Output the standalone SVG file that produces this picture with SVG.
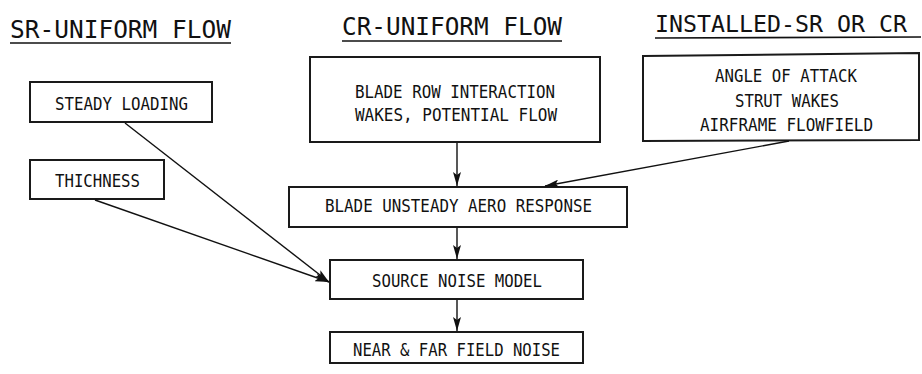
<svg xmlns="http://www.w3.org/2000/svg" width="922" height="374" viewBox="0 0 922 374">
<defs>
<style>
.box{fill:#fff;stroke:#1a1a1a;stroke-width:2}
.t{font-family:"DejaVu Sans Mono","Liberation Mono",monospace;font-size:18px;fill:#111}
.h{font-family:"DejaVu Sans Mono","Liberation Mono",monospace;font-size:25px;fill:#111}
.ul{stroke:#111;stroke-width:1.6}
.c{stroke:#111;stroke-width:1.4;fill:none}
</style>
<marker id="ah" viewBox="0 0 14 8" refX="14" refY="4" markerWidth="14" markerHeight="8" markerUnits="userSpaceOnUse" orient="auto">
<path d="M0,0 L14,4 L0,8 L3,4 Z" fill="#111"/>
</marker>
</defs>
<rect width="922" height="374" fill="#fff"/>
<g id="titles">
<text class="h" x="10" y="38" textLength="221" lengthAdjust="spacingAndGlyphs">SR-UNIFORM FLOW</text>
<line class="ul" x1="10" y1="43" x2="231" y2="43"/>
<text class="h" x="342" y="35" textLength="220" lengthAdjust="spacingAndGlyphs">CR-UNIFORM FLOW</text>
<line class="ul" x1="342" y1="41" x2="562" y2="41"/>
<text class="h" x="655" y="32" style="font-size:23.5px" textLength="252" lengthAdjust="spacingAndGlyphs">INSTALLED-SR OR CR</text>
<line class="ul" x1="655" y1="38" x2="921" y2="37"/>
</g>
<g id="steady">
<rect class="box" x="30" y="82" width="182" height="40"/>
<text class="t" x="55" y="110" textLength="133" lengthAdjust="spacingAndGlyphs">STEADY LOADING</text>
</g>
<g id="thichness">
<rect class="box" x="30" y="160" width="134" height="39"/>
<text class="t" x="55" y="187" textLength="85" lengthAdjust="spacingAndGlyphs">THICHNESS</text>
</g>
<g id="cr">
<rect class="box" x="310" y="57" width="290" height="85"/>
<text class="t" x="355" y="98" textLength="200" lengthAdjust="spacingAndGlyphs">BLADE ROW INTERACTION</text>
<text class="t" x="355" y="121" textLength="202" lengthAdjust="spacingAndGlyphs">WAKES, POTENTIAL FLOW</text>
</g>
<g id="installed">
<path class="box" d="M643,56 L919,53 L919,140 L643,141 Z"/>
<text class="t" x="715" y="82" textLength="142" lengthAdjust="spacingAndGlyphs">ANGLE OF ATTACK</text>
<text class="t" x="735" y="107" textLength="104" lengthAdjust="spacingAndGlyphs">STRUT WAKES</text>
<text class="t" x="700" y="131" textLength="173" lengthAdjust="spacingAndGlyphs">AIRFRAME FLOWFIELD</text>
</g>
<g id="blade">
<rect class="box" x="289" y="187" width="338" height="40"/>
<text class="t" x="325" y="212" textLength="267" lengthAdjust="spacingAndGlyphs">BLADE UNSTEADY AERO RESPONSE</text>
</g>
<g id="source">
<rect class="box" x="330" y="260" width="253" height="39"/>
<text class="t" x="372" y="287" textLength="170" lengthAdjust="spacingAndGlyphs">SOURCE NOISE MODEL</text>
</g>
<g id="near">
<rect class="box" x="330" y="332" width="253" height="31"/>
<text class="t" x="353" y="356" textLength="207" lengthAdjust="spacingAndGlyphs">NEAR &amp; FAR FIELD NOISE</text>
</g>
<g id="connectors">
<line class="c" x1="457" y1="143" x2="457" y2="186" marker-end="url(#ah)"/>
<line class="c" x1="789" y1="141" x2="545" y2="186" marker-end="url(#ah)"/>
<line class="c" x1="457" y1="228" x2="457" y2="259" marker-end="url(#ah)"/>
<line class="c" x1="457" y1="300" x2="457" y2="331" marker-end="url(#ah)"/>
<line class="c" x1="125" y1="123" x2="329" y2="282" marker-end="url(#ah)"/>
<line class="c" x1="95" y1="200" x2="329" y2="282" marker-end="url(#ah)"/>
</g>
</svg>
